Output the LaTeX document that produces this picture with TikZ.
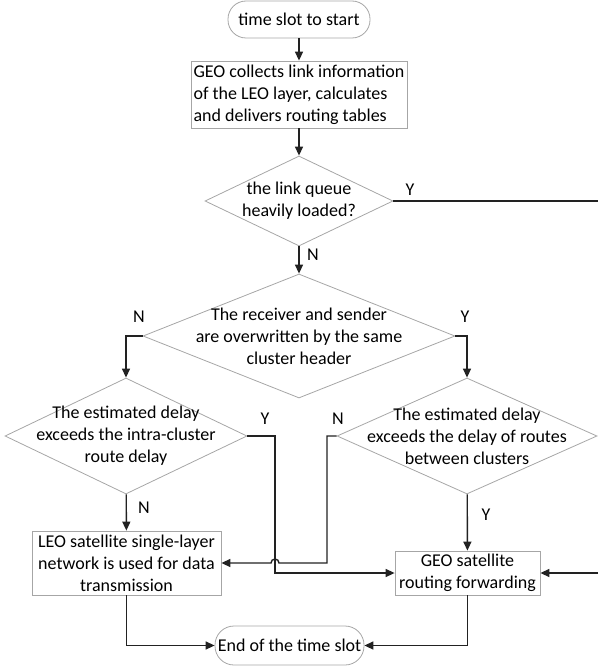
\documentclass[tikz,border=0pt]{standalone}
\usepackage{fontspec}
\setmainfont{Carlito}
\usetikzlibrary{positioning,calc,shapes.geometric,arrows.meta}
\definecolor{edge}{HTML}{222222}
\definecolor{outline}{HTML}{A6A6A6}

\begin{document}
\begin{tikzpicture}[
    x=1pt, y=-1pt,
    font=\fontsize{18}{22}\selectfont,
    terminal/.style={rectangle,rounded corners=18pt,draw=outline,line width=0.8pt,inner sep=0pt},
    process/.style={rectangle,draw=outline,line width=0.8pt,inner sep=0pt,align=center},
    decision/.style={diamond,draw=outline,line width=0.8pt,inner sep=0pt},
    note/.style={align=center,inner sep=0pt},
    yn/.style={inner sep=0pt},
    conn/.style={draw=edge,line width=1.4pt},
    arr/.style={conn,-{Triangle[length=9pt,width=8pt]}}
  ]
    \useasboundingbox (0,0) rectangle (598,666);

    % terminals and boxes
    \node[terminal,minimum width=142pt,minimum height=37pt] (start) at (299,19.5) {time slot to start};
    \node[process,minimum width=216pt,minimum height=67pt,align=left] (collect) at (299,94.5)
      {GEO collects link information\\of the LEO layer, calculates\\and delivers routing tables};
    \node[process,minimum width=189pt,minimum height=64pt] (leo) at (126.5,563)
      {LEO satellite single-layer\\network is used for data\\transmission};
    \node[process,minimum width=145pt,minimum height=44pt] (geosat) at (467.5,573)
      {GEO satellite\\routing forwarding};
    \node[terminal,minimum width=149pt,minimum height=39pt,rounded corners=19pt] (finish) at (289.5,645.5)
      {End of the time slot};

    % decisions
    \node[decision,minimum width=188pt,minimum height=90pt]  (queue)  at (299,201) {};
    \node[decision,minimum width=312pt,minimum height=124pt] (same)   at (299,336) {};
    \node[decision,minimum width=242pt,minimum height=116pt] (intra)  at (126,436) {};
    \node[decision,minimum width=260pt,minimum height=116pt] (inter)  at (467,436) {};
    \node[note] (queuet) at (queue) {the link queue\\heavily loaded?};
    \node[note] (samet)  at (same)  {The receiver and sender\\are overwritten by the same\\cluster header};
    \node[note] (intrat) at (intra) {The estimated delay\\exceeds the intra-cluster\\route delay};
    \node[note] (intert) at (inter) {The estimated delay\\exceeds the delay of routes\\between clusters};

    % free ends at the right border
    \coordinate (out1) at (598,201);
    \coordinate (in1)  at (598,573);
    \coordinate (ybend) at (275,573);
    \coordinate (nbend) at (327,563);
    \coordinate (hop)   at (275,563);

    \draw[arr] (start) -- (collect);
    \draw[arr] (collect) -- (queue);
    \draw[conn] (queue.east) -- (out1);
    \draw[arr] (queue) -- (same);
    \draw[arr] (same.west) -| (intra.north);
    \draw[arr] (same.east) -| (inter.north);
    \draw[arr] (intra) -- (leo);
    \draw[arr] (inter) -- (geosat);
    \draw[arr] (intra.east) -| (ybend) -- (geosat.west);
    \draw[arr] (inter.west) -| (nbend) -- ($(hop)+(4,0)$)
      arc[start angle=0,end angle=180,radius=4pt] -- (leo.east);
    \draw[arr] (in1) -- (geosat.east);
    \draw[arr] (leo.south) |- (finish.west);
    \draw[arr] (geosat.south) |- (finish.east);

    % branch labels
    \node[yn] (y1) at (410,190) {Y};
    \node[yn] (n1) at (313,255) {N};
    \node[yn] (n2) at (139,317) {N};
    \node[yn] (y2) at (465,317) {Y};
    \node[yn] (y3) at (265,419) {Y};
    \node[yn] (n3) at (338,419) {N};
    \node[yn] (n4) at (144,508) {N};
    \node[yn] (y4) at (486,515) {Y};
  \end{tikzpicture}
\end{document}
